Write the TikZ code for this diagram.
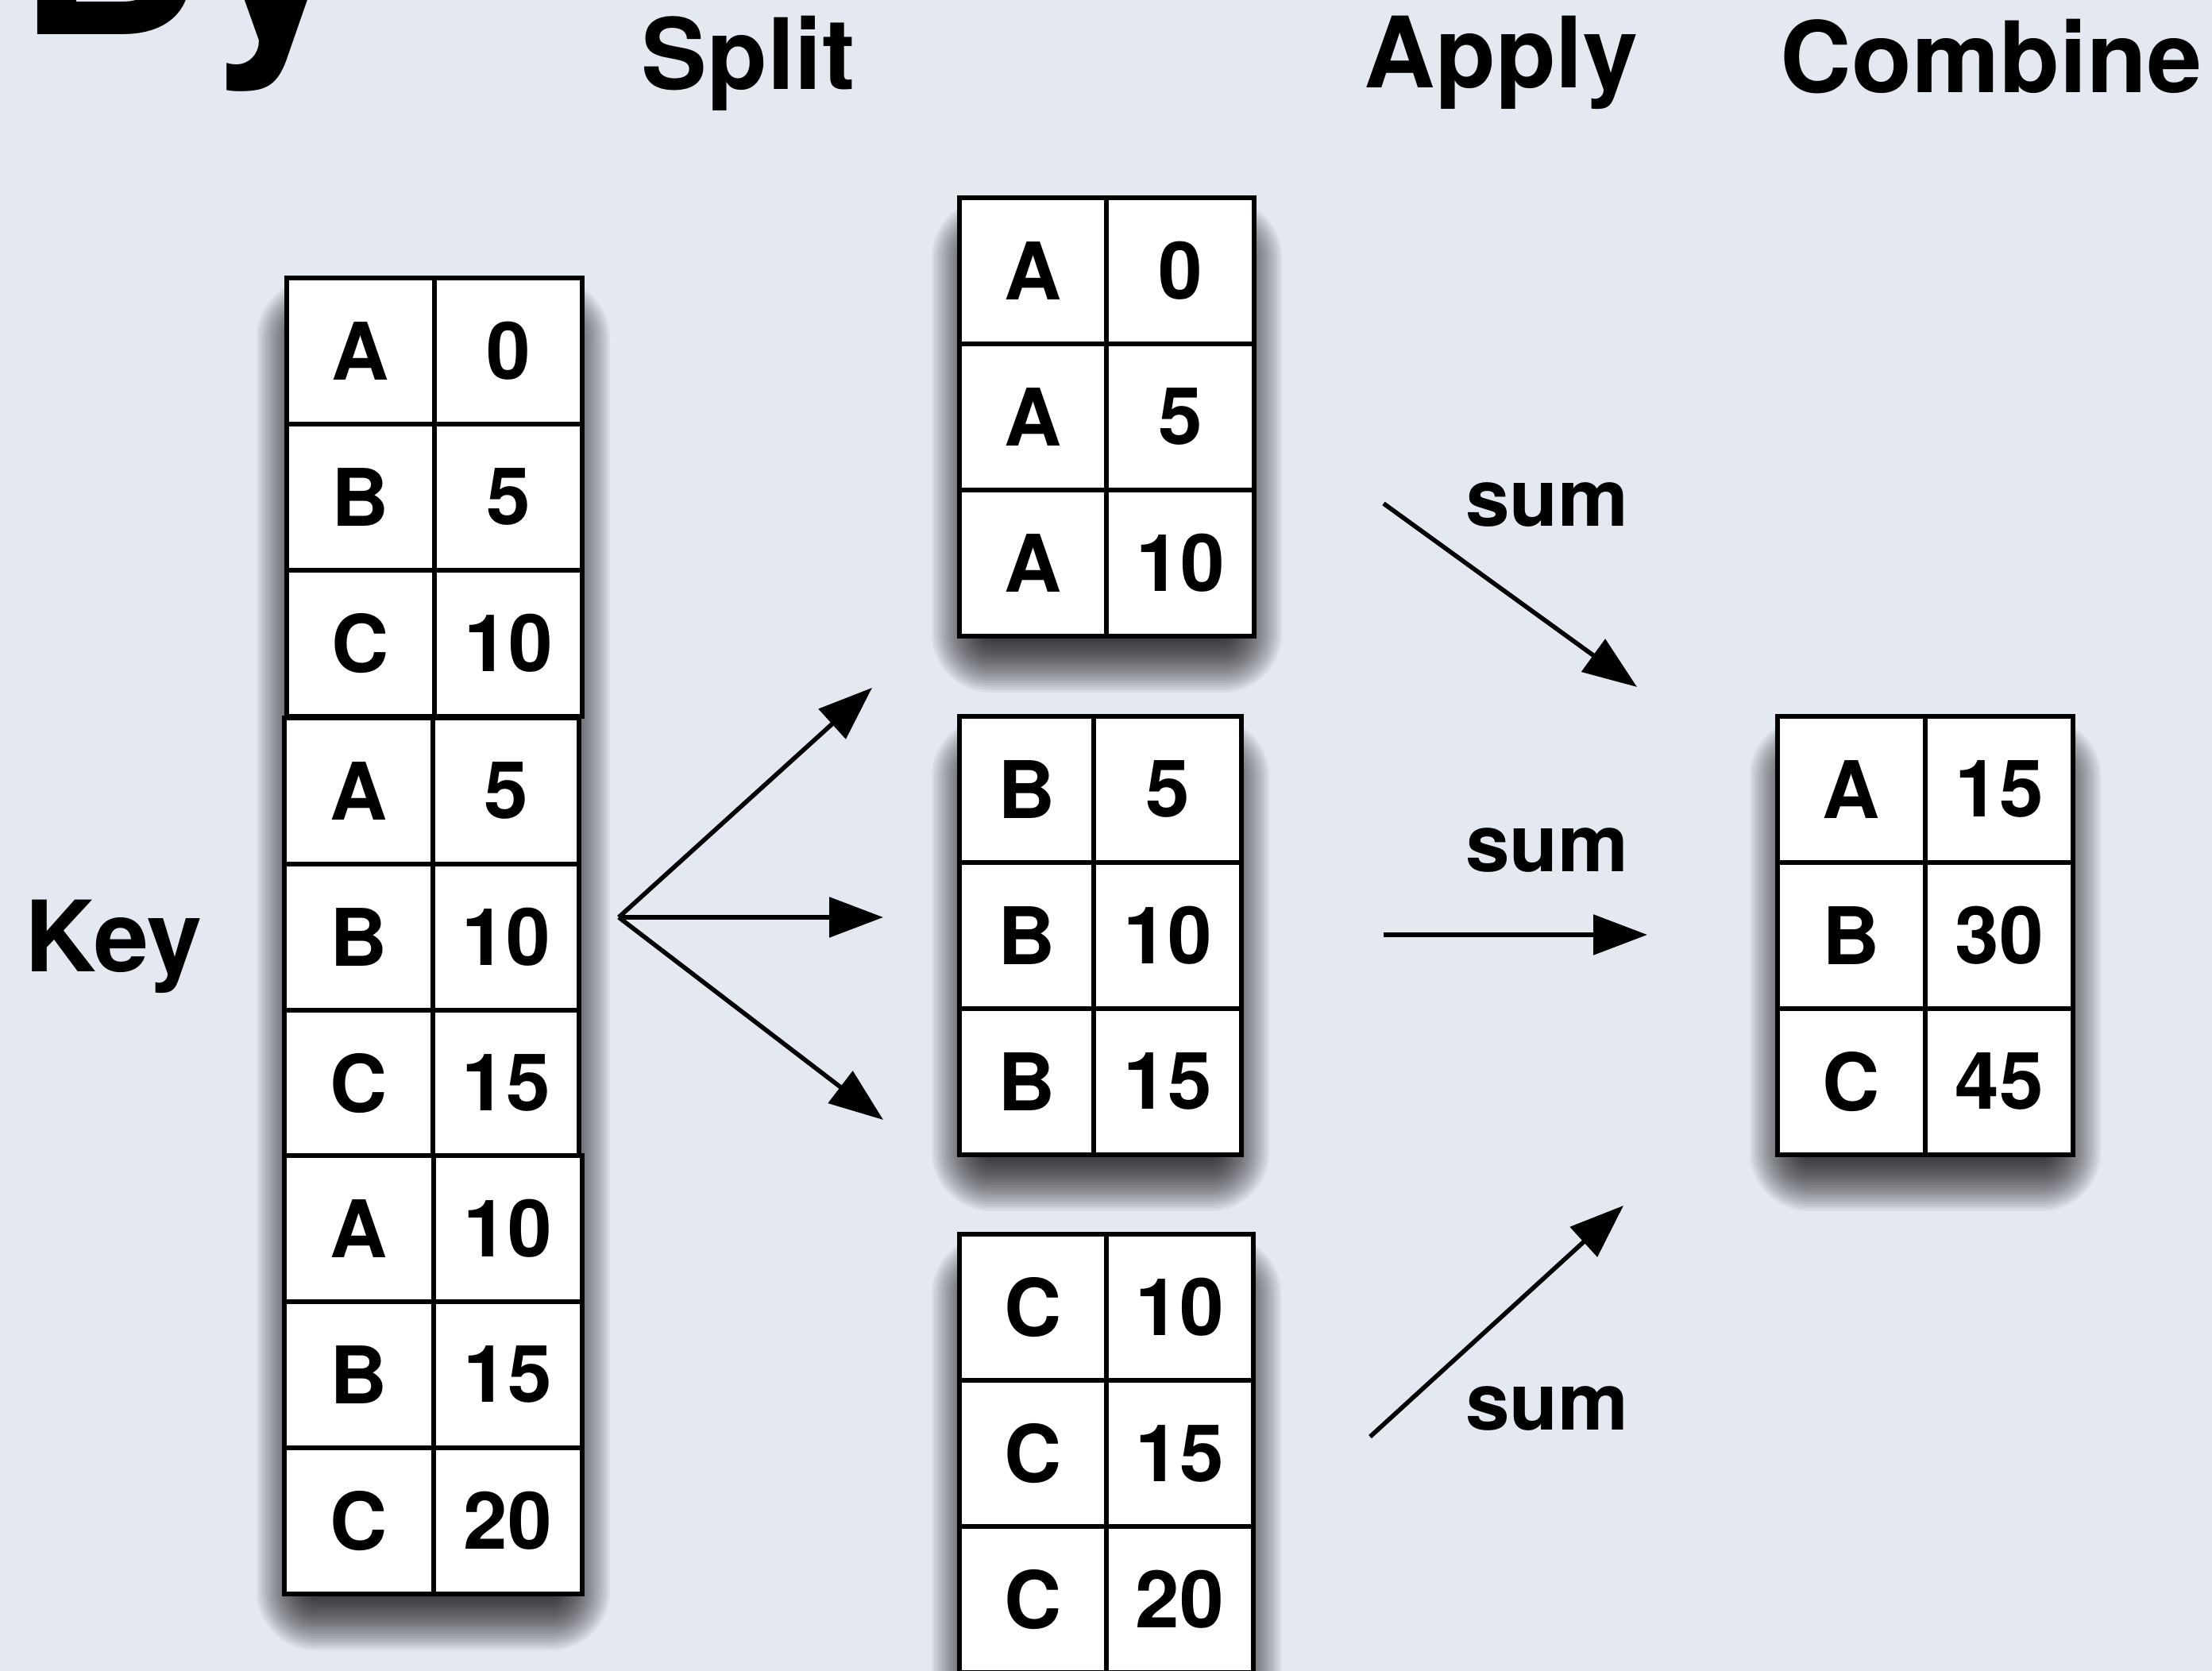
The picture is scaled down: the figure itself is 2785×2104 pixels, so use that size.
\documentclass[tikz,border=0pt]{standalone}
\usepackage{fontspec}
\setmainfont{TeX Gyre Heros}
\usetikzlibrary{arrows.meta}
\definecolor{bgc}{RGB}{228,233,241}
\tikzset{
  cell/.style={draw=black, fill=white, line width=1.45pt, inner sep=0pt, outer sep=0pt,
    minimum height=46pt, font=\fontsize{25}{25}\selectfont\bfseries},
  title/.style={inner sep=0pt, anchor=base, font=\fontsize{31}{31}\selectfont\bfseries},
  bigtitle/.style={inner sep=0pt, anchor=base, font=\fontsize{82}{82}\selectfont\bfseries},
  lbl/.style={inner sep=0pt, anchor=base, font=\fontsize{25}{25}\selectfont\bfseries},
  arr/.style={draw=black, line width=1.4pt,
    -{Triangle[length=17pt,width=12.5pt,fill=black]}},
  shadowlayer/.style={fill=black, fill opacity=0.05},
}
\newcommand\cellrow[7]{%
  \node[cell, minimum width={0.25pt*(#3-#2)}] (#1k) at ({(#2+#3)/2},{#5+92}) {#6};
  \node[cell, minimum width={0.25pt*(#4-#3)}] (#1v) at ({(#3+#4)/2},{#5+92}) {#7};
}
% soft drop shadow built from stacked translucent layers
\newcommand\softshadow[4]{%
  \foreach \e in {-40,-37,...,35}{%
    \pgfmathsetmacro\rc{max(1,\e+40)*0.25}%
    \fill[shadowlayer, rounded corners=\rc pt]
      ({#1-\e},{#2+36-\e}) rectangle ({#3+\e},{#4+36+\e});
  }%
}
\begin{document}
\begin{tikzpicture}[x=0.25pt, y=-0.25pt]
  \fill[bgc] (0,0) rectangle (2785,2104);
  \useasboundingbox (0,0) rectangle (2785,2104);

  % shadows
  \softshadow{358}{350}{733}{2007}
  \softshadow{1208}{249}{1579}{801}
  \softshadow{1208}{902}{1563}{1454}
  \softshadow{1208}{1554}{1578}{2106}
  \softshadow{2238}{902}{2610}{1454}

  % titles
  \node[bigtitle] (by) at (230,44) {By};
  \node[title] (split) at (942,113) {Split};
  \node[title] (apply) at (1890,111) {Apply};
  \node[title] (combine) at (2507,117) {Combine};
  \node[title] (key) at (143,1224) {Key};

  % left table
  \cellrow{L1}{361}{547}{733}{350}{A}{0}
  \cellrow{L2}{361}{547}{733}{534}{B}{5}
  \cellrow{L3}{361}{547}{733}{718}{C}{10}
  \cellrow{L4}{358}{545}{729}{904}{A}{5}
  \cellrow{L5}{358}{545}{729}{1088}{B}{10}
  \cellrow{L6}{358}{545}{729}{1272}{C}{15}
  \cellrow{L7}{358}{546}{733}{1455}{A}{10}
  \cellrow{L8}{358}{546}{733}{1639}{B}{15}
  \cellrow{L9}{358}{546}{733}{1823}{C}{20}

  % split tables
  \cellrow{A1}{1208}{1393}{1579}{249}{A}{0}
  \cellrow{A2}{1208}{1393}{1579}{433}{A}{5}
  \cellrow{A3}{1208}{1393}{1579}{617}{A}{10}
  \cellrow{B1}{1208}{1377}{1563}{902}{B}{5}
  \cellrow{B2}{1208}{1377}{1563}{1086}{B}{10}
  \cellrow{B3}{1208}{1377}{1563}{1270}{B}{15}
  \cellrow{C1}{1208}{1393}{1578}{1554}{C}{10}
  \cellrow{C2}{1208}{1393}{1578}{1738}{C}{15}
  \cellrow{C3}{1208}{1393}{1578}{1922}{C}{20}

  % result table
  \cellrow{R1}{2238}{2424}{2610}{902}{A}{15}
  \cellrow{R2}{2238}{2424}{2610}{1086}{B}{30}
  \cellrow{R3}{2238}{2424}{2610}{1270}{C}{45}

  % split arrows
  \coordinate (s0) at (779,1155);
  \coordinate (s1) at (1098,866);
  \coordinate (s2) at (1112,1155);
  \coordinate (s3) at (1112,1410);
  \draw[arr] (s0) -- (s1);
  \draw[arr] (s0) -- (s2);
  \draw[arr] (s0) -- (s3);

  % apply arrows
  \coordinate (a1s) at (1742,634);
  \coordinate (a1e) at (2061,865);
  \coordinate (a2s) at (1742,1177);
  \coordinate (a2e) at (2074,1177);
  \coordinate (a3s) at (1725,1809);
  \coordinate (a3e) at (2044,1518);
  \draw[arr] (a1s) -- (a1e);
  \draw[arr] (a2s) -- (a2e);
  \draw[arr] (a3s) -- (a3e);

  \node[lbl] (sum1) at (1948,663) {sum};
  \node[lbl] (sum2) at (1948,1098) {sum};
  \node[lbl] (sum3) at (1948,1800) {sum};
\end{tikzpicture}
\end{document}
